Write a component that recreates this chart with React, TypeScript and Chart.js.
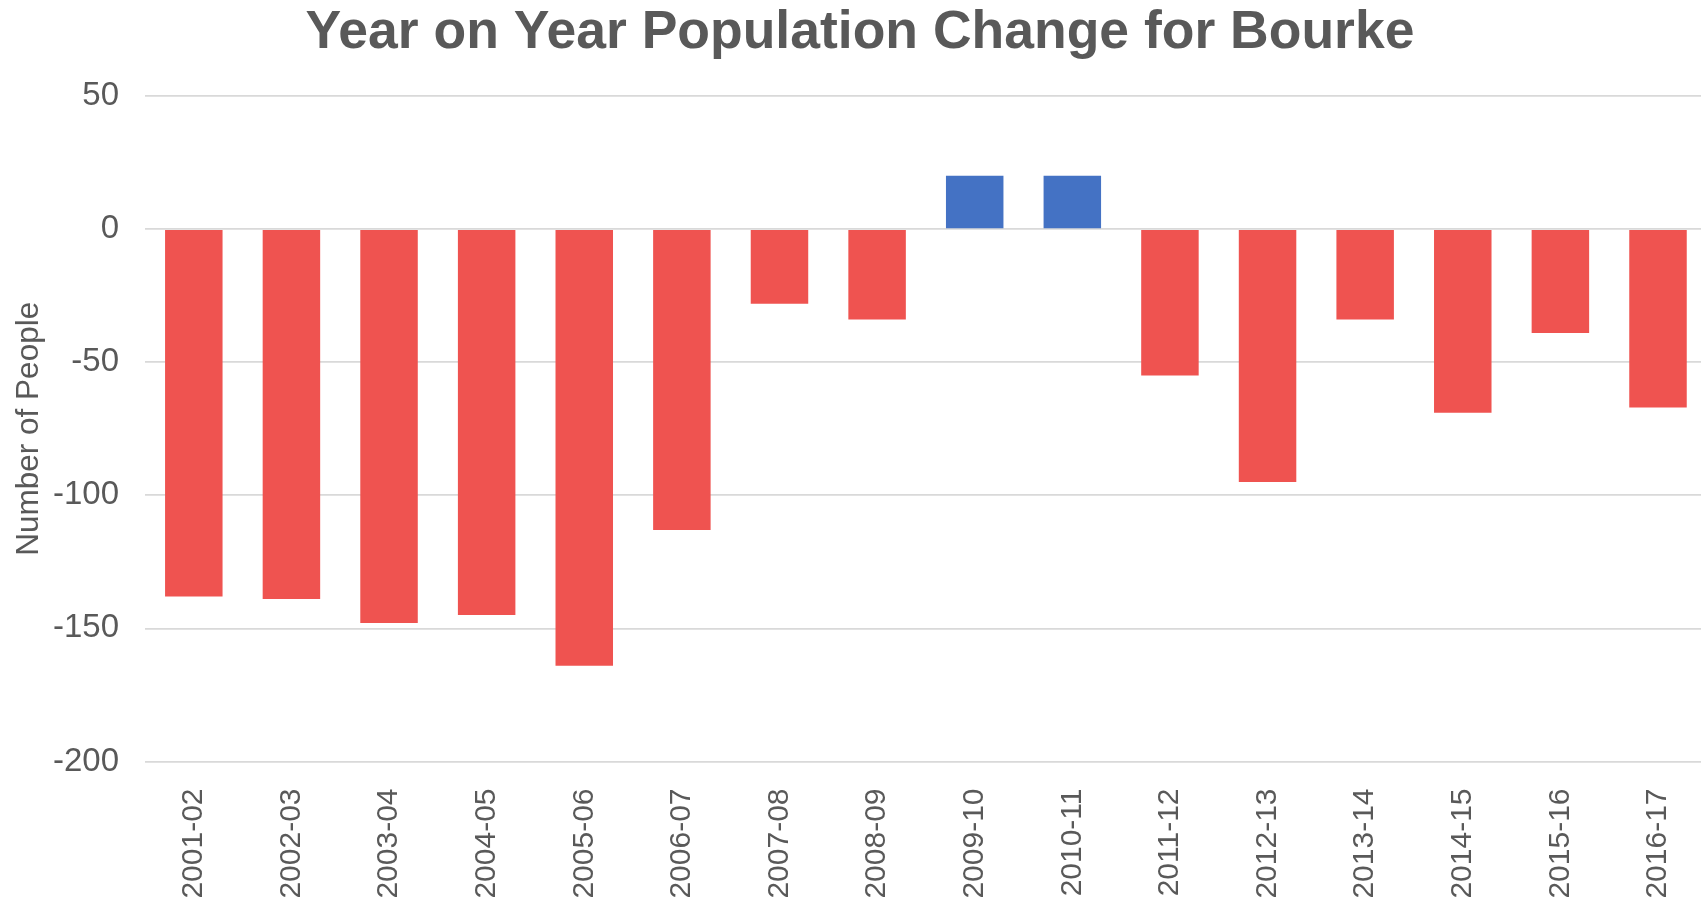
import React, { useEffect, useRef } from "react";
import { Chart, registerables } from "chart.js";

Chart.register(...registerables);

const categories = [
  "2001-02", "2002-03", "2003-04", "2004-05", "2005-06", "2006-07", "2007-08", "2008-09",
  "2009-10", "2010-11", "2011-12", "2012-13", "2013-14", "2014-15", "2015-16", "2016-17",
];
const populationChange = [-138, -139, -148, -145, -164, -113, -28, -34, 20, 20, -55, -95, -34, -69, -39, -67];
const yTicks = [50, 0, -50, -100, -150, -200];

const TITLE = "Year on Year Population Change for Bourke";
const Y_TITLE = "Number of People";
const TEXT = "#595959";
const RED = "#EF5350";
const BLUE = "#4472C4";
const FONT = "'Liberation Sans', Arial, sans-serif";

export default function App() {
  const ref = useRef<HTMLCanvasElement | null>(null);

  useEffect(() => {
    if (!ref.current) return;
    const chart = new Chart(ref.current, {
      type: "bar",
      data: {
        labels: categories,
        datasets: [
          {
            data: populationChange,
            backgroundColor: populationChange.map((v) => (v >= 0 ? BLUE : RED)),
            borderWidth: 0,
            categoryPercentage: 1,
            barPercentage: 0.589,
          },
        ],
      },
      options: {
        animation: false,
        responsive: false,
        devicePixelRatio: 1,
        layout: { padding: { left: 7, right: 0, top: 0, bottom: 0 } },
        plugins: {
          legend: { display: false },
          tooltip: { enabled: false },
          title: {
            display: true,
            text: TITLE,
            color: TEXT,
            font: { family: FONT, size: 53.5, weight: "bold", lineHeight: 1.0 },
            padding: { top: 6, bottom: 36.5 },
          },
        },
        scales: {
          x: {
            grid: { display: false },
            border: { display: false },
            ticks: {
              color: TEXT,
              font: { family: FONT, size: 30 },
              maxRotation: 90,
              minRotation: 90,
              autoSkip: false,
              padding: 19,
            },
            afterFit: (scale: any) => {
              scale.height = 139.5;
            },
          },
          y: {
            min: Math.min(...yTicks),
            max: Math.max(...yTicks),
            afterBuildTicks: (scale: any) => {
              scale.ticks = yTicks.map((v) => ({ value: v }));
            },
            grid: { color: "#d9d9d9", lineWidth: 1.7, drawTicks: false },
            border: { display: false },
            ticks: {
              color: TEXT,
              font: { family: FONT, size: 33 },
              padding: 26,
            },
            title: {
              display: true,
              text: Y_TITLE,
              color: TEXT,
              font: { family: FONT, size: 31.5 },
              padding: { top: 3.5, bottom: 0 },
            },
            afterFit: (scale: any) => {
              scale.width = 138;
            },
          },
        },
      },
    });
    return () => chart.destroy();
  }, []);

  return (
    <div
      style={{
        position: "fixed",
        left: 0,
        top: 0,
        width: 1701,
        height: 901,
        overflow: "hidden",
        background: "#ffffff",
      }}
    >
      <canvas ref={ref} width={1713} height={901} style={{ display: "block" }} />
    </div>
  );
}
